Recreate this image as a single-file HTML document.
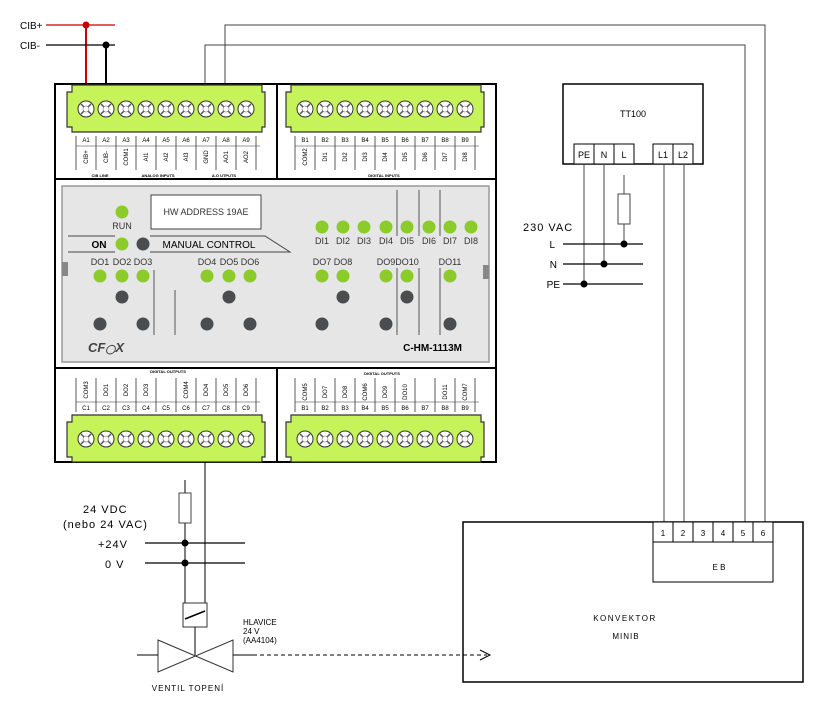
<!DOCTYPE html>
<html><head><meta charset="utf-8"><style>
html,body{margin:0;padding:0;background:#fff}
svg{display:block;font-family:"Liberation Sans",sans-serif}
.t{font-size:6px;text-anchor:middle}
.s{font-size:4px;text-anchor:middle;font-weight:bold}
.p{font-size:9px;text-anchor:middle;fill:#333}
</style></head><body>
<svg width="825" height="715" viewBox="0 0 825 715" xmlns="http://www.w3.org/2000/svg">
<defs>
<g id="sc"><circle r="8" fill="#fff" stroke="#333" stroke-width="1"/><path d="M-5,-5L5,5M-5,5L5,-5" stroke="#555" stroke-width="1.5"/><circle r="3" fill="#fff" stroke="#777" stroke-width=".6"/></g>
<g id="tb"><path d="M5,0H195V7H198V42H195V47H5V42H0V7H5Z" fill="#c6f35a" stroke="#333" stroke-width="1.2"/>
<use href="#sc" x="19" y="24"/><use href="#sc" x="39" y="24"/><use href="#sc" x="59" y="24"/><use href="#sc" x="79" y="24"/><use href="#sc" x="99" y="24"/><use href="#sc" x="119" y="24"/><use href="#sc" x="139" y="24"/><use href="#sc" x="159" y="24"/><use href="#sc" x="179" y="24"/></g>
<g id="sep"><path d="M0,0V34M20,0V34M40,0V34M60,0V34M80,0V34M100,0V34M120,0V34M140,0V34M160,0V34M180,0V34" stroke="#333" stroke-width=".8"/></g>
</defs>
<!-- CIB wires -->
<line x1="46" y1="25" x2="115" y2="25" stroke="#c00" stroke-width="1.2"/>
<line x1="86" y1="25" x2="86" y2="84" stroke="#c00" stroke-width="2"/>
<circle cx="86" cy="25" r="3.5" fill="#c00"/>
<line x1="46" y1="45" x2="115" y2="45" stroke="#000" stroke-width="1.2"/>
<line x1="106" y1="45" x2="106" y2="84" stroke="#000" stroke-width="2"/>
<circle cx="106" cy="45" r="3.5" fill="#000"/>
<text x="20" y="29" font-size="10">CIB+</text>
<text x="20" y="49" font-size="10">CIB-</text>
<!-- gray wires to EB 5,6 -->
<path d="M205,84V45H745V522M225,84V25H765V522" fill="none" stroke="#444" stroke-width="1"/>
<!-- module -->
<rect x="55" y="84" width="441" height="378" fill="#fff" stroke="#000" stroke-width="2"/>
<line x1="277" y1="84" x2="277" y2="179" stroke="#000" stroke-width="2"/>
<line x1="55" y1="179" x2="496" y2="179" stroke="#000" stroke-width="2"/>
<line x1="55" y1="368" x2="496" y2="368" stroke="#000" stroke-width="2"/>
<line x1="277" y1="368" x2="277" y2="462" stroke="#000" stroke-width="2"/>
<use href="#tb" x="67" y="85"/>
<use href="#tb" x="286" y="85"/>
<use href="#tb" x="67" y="415"/>
<use href="#tb" x="286" y="415"/>
<use href="#sep" x="76" y="136"/><use href="#sep" x="295" y="136"/>
<use href="#sep" x="76" y="378"/><use href="#sep" x="295" y="378"/>
<line x1="76" y1="146" x2="260" y2="146" stroke="#333" stroke-width=".5"/>
<line x1="295" y1="146" x2="479" y2="146" stroke="#333" stroke-width=".5"/>
<line x1="76" y1="402" x2="260" y2="402" stroke="#333" stroke-width=".5"/>
<line x1="295" y1="402" x2="479" y2="402" stroke="#333" stroke-width=".5"/>
<g class="t">
<text x="86" y="142">A1</text><text x="106" y="142">A2</text><text x="126" y="142">A3</text><text x="146" y="142">A4</text><text x="166" y="142">A5</text><text x="186" y="142">A6</text><text x="206" y="142">A7</text><text x="226" y="142">A8</text><text x="246" y="142">A9</text>
<text x="305" y="142">B1</text><text x="325" y="142">B2</text><text x="345" y="142">B3</text><text x="365" y="142">B4</text><text x="385" y="142">B5</text><text x="405" y="142">B6</text><text x="425" y="142">B7</text><text x="445" y="142">B8</text><text x="465" y="142">B9</text>
<text x="86" y="410">C1</text><text x="106" y="410">C2</text><text x="126" y="410">C3</text><text x="146" y="410">C4</text><text x="166" y="410">C5</text><text x="186" y="410">C6</text><text x="206" y="410">C7</text><text x="226" y="410">C8</text><text x="246" y="410">C9</text>
<text x="305" y="410">B1</text><text x="325" y="410">B2</text><text x="345" y="410">B3</text><text x="365" y="410">B4</text><text x="385" y="410">B5</text><text x="405" y="410">B6</text><text x="425" y="410">B7</text><text x="445" y="410">B8</text><text x="465" y="410">B9</text>
</g>
<g class="t" font-size="5">
<text transform="translate(88,157) rotate(-90)">CIB+</text><text transform="translate(108,157) rotate(-90)">CIB-</text><text transform="translate(128,157) rotate(-90)">COM1</text><text transform="translate(148,157) rotate(-90)">AI1</text><text transform="translate(168,157) rotate(-90)">AI2</text><text transform="translate(188,157) rotate(-90)">AI3</text><text transform="translate(208,157) rotate(-90)">GND</text><text transform="translate(228,157) rotate(-90)">AO1</text><text transform="translate(248,157) rotate(-90)">AO2</text>
<text transform="translate(307,157) rotate(-90)">COM2</text><text transform="translate(327,157) rotate(-90)">DI1</text><text transform="translate(347,157) rotate(-90)">DI2</text><text transform="translate(367,157) rotate(-90)">DI3</text><text transform="translate(387,157) rotate(-90)">DI4</text><text transform="translate(407,157) rotate(-90)">DI5</text><text transform="translate(427,157) rotate(-90)">DI6</text><text transform="translate(447,157) rotate(-90)">DI7</text><text transform="translate(467,157) rotate(-90)">DI8</text>
<text transform="translate(88,390) rotate(-90)">COM3</text><text transform="translate(108,390) rotate(-90)">DO1</text><text transform="translate(128,390) rotate(-90)">DO2</text><text transform="translate(148,390) rotate(-90)">DO3</text><text transform="translate(188,390) rotate(-90)">COM4</text><text transform="translate(208,390) rotate(-90)">DO4</text><text transform="translate(228,390) rotate(-90)">DO5</text><text transform="translate(248,390) rotate(-90)">DO6</text>
<text transform="translate(307,392) rotate(-90)">COM5</text><text transform="translate(327,392) rotate(-90)">DO7</text><text transform="translate(347,392) rotate(-90)">DO8</text><text transform="translate(367,392) rotate(-90)">COM6</text><text transform="translate(387,392) rotate(-90)">DO9</text><text transform="translate(407,392) rotate(-90)">DO10</text><text transform="translate(447,392) rotate(-90)">DO11</text><text transform="translate(467,392) rotate(-90)">COM7</text>
</g>
<g class="s"><text x="100" y="177">CIB LINE</text><text x="158" y="177">ANALOG INPUTS</text><text x="224" y="177">A.O UTPUTS</text><text x="384" y="177">DIGITAL INPUTS</text><text x="168" y="373">DIGITAL OUTPUTS</text><text x="382" y="375">DIGITAL OUTPUTS</text></g>
<!-- panel -->
<rect x="62" y="186" width="427" height="176" fill="#e6e6e6" stroke="#999" stroke-width="1.5"/>
<rect x="62" y="262" width="6" height="14" fill="#888"/><rect x="483" y="265" width="6" height="14" fill="#888"/>
<rect x="151" y="195" width="110" height="34" fill="#fff" stroke="#444"/>
<text x="206" y="215" font-size="9" text-anchor="middle" fill="#333">HW ADDRESS 19AE</text>
<circle cx="122" cy="212" r="6.5" fill="#8ccc2a"/>
<text x="122" y="229" class="p">RUN</text>
<path d="M68,236H115M150,236H265L290,252H150M115,252H68Z" fill="none" stroke="#444"/>
<text x="99" y="248" font-size="10" font-weight="bold" text-anchor="middle">ON</text>
<text x="209" y="248" font-size="10" text-anchor="middle">MANUAL CONTROL</text>
<circle cx="122" cy="244" r="6.5" fill="#8ccc2a"/><circle cx="143" cy="244" r="6.5" fill="#4a4d50"/>
<g fill="#8ccc2a"><circle cx="322" cy="227" r="6.5"/><circle cx="343" cy="227" r="6.5"/><circle cx="364" cy="227" r="6.5"/><circle cx="386" cy="227" r="6.5"/><circle cx="407" cy="227" r="6.5"/><circle cx="429" cy="227" r="6.5"/><circle cx="450" cy="227" r="6.5"/><circle cx="471" cy="227" r="6.5"/>
<circle cx="100" cy="276" r="6.5"/><circle cx="122" cy="276" r="6.5"/><circle cx="143" cy="276" r="6.5"/><circle cx="207" cy="276" r="6.5"/><circle cx="229" cy="276" r="6.5"/><circle cx="250" cy="276" r="6.5"/><circle cx="322" cy="276" r="6.5"/><circle cx="343" cy="276" r="6.5"/><circle cx="386" cy="276" r="6.5"/><circle cx="407" cy="276" r="6.5"/><circle cx="450" cy="276" r="6.5"/></g>
<g fill="#4a4d50"><circle cx="122" cy="297" r="6.5"/><circle cx="229" cy="297" r="6.5"/><circle cx="343" cy="297" r="6.5"/><circle cx="407" cy="297" r="6.5"/>
<circle cx="100" cy="324" r="6.5"/><circle cx="143" cy="324" r="6.5"/><circle cx="207" cy="324" r="6.5"/><circle cx="250" cy="324" r="6.5"/><circle cx="322" cy="324" r="6.5"/><circle cx="386" cy="324" r="6.5"/><circle cx="450" cy="324" r="6.5"/></g>
<g class="p"><text x="322" y="244">DI1</text><text x="343" y="244">DI2</text><text x="364" y="244">DI3</text><text x="386" y="244">DI4</text><text x="407" y="244">DI5</text><text x="429" y="244">DI6</text><text x="450" y="244">DI7</text><text x="471" y="244">DI8</text>
<text x="100" y="265">DO1</text><text x="122" y="265">DO2</text><text x="143" y="265">DO3</text><text x="207" y="265">DO4</text><text x="229" y="265">DO5</text><text x="250" y="265">DO6</text><text x="322" y="265">DO7</text><text x="343" y="265">DO8</text><text x="386" y="265">DO9</text><text x="407" y="265">DO10</text><text x="450" y="265">DO11</text></g>
<path d="M154,270V335M175,290V335M397,190V236M419,190V236M440,190V236M397,268V335M419,268V335M440,268V335" stroke="#555" stroke-width="1"/>
<text x="88" y="352" font-size="13" font-weight="bold" font-style="italic" fill="#444">CF<tspan font-size="9">&#9711;</tspan>X</text>
<text x="462" y="351" font-size="10" font-weight="bold" text-anchor="end">C-HM-1113M</text>
<!-- TT100 -->
<rect x="563" y="84" width="140" height="80" fill="#fff" stroke="#000" stroke-width="1.5"/>
<text x="633" y="117" font-size="9" text-anchor="middle">TT100</text>
<rect x="574" y="144" width="60" height="20" fill="#fff" stroke="#000"/><path d="M594,144V164M614,144V164" stroke="#000"/>
<rect x="653" y="144" width="40" height="20" fill="#fff" stroke="#000"/><path d="M673,144V164" stroke="#000"/>
<g font-size="9" text-anchor="middle"><text x="584" y="158">PE</text><text x="604" y="158">N</text><text x="624" y="158">L</text><text x="663" y="158">L1</text><text x="683" y="158">L2</text></g>
<path d="M584,164V284M604,164V264M624,175V244M664,164V522M684,164V522" stroke="#444" stroke-width="1"/>
<rect x="618" y="194" width="12" height="30" fill="#fff" stroke="#444"/>
<path d="M563,244H643M563,264H643M563,284H643" stroke="#000" stroke-width="1.2"/>
<circle cx="624" cy="244" r="3.5"/><circle cx="604" cy="264" r="3.5"/><circle cx="584" cy="284" r="3.5"/>
<text x="523" y="231" font-size="11" letter-spacing="1">230 VAC</text>
<text x="555" y="248" font-size="10" text-anchor="end">L</text><text x="557" y="268" font-size="10" text-anchor="end">N</text><text x="560" y="288" font-size="10" text-anchor="end">PE</text>
<!-- convector -->
<rect x="463" y="522" width="340" height="160" fill="#fff" stroke="#000" stroke-width="1.5"/>
<rect x="653" y="522" width="120" height="60" fill="#fff" stroke="#000"/>
<path d="M653,542H773M673,522V542M693,522V542M713,522V542M733,522V542M753,522V542" stroke="#000"/>
<g font-size="8" text-anchor="middle"><text x="663" y="536">1</text><text x="683" y="536">2</text><text x="703" y="536">3</text><text x="723" y="536">4</text><text x="743" y="536">5</text><text x="763" y="536">6</text>
<text x="719" y="570">E B</text><text x="625" y="621" letter-spacing="1.5">KONVEKTOR</text><text x="626" y="639" letter-spacing="1">MINIB</text></g>
<!-- bottom 24V -->
<path d="M205,462V603M185,480V603M195,627V655" stroke="#000" stroke-width="1"/>
<rect x="179" y="493" width="12" height="30" fill="#fff" stroke="#444"/>
<path d="M145,543H245M145,563H245" stroke="#000" stroke-width="1.2"/>
<circle cx="185" cy="543" r="3.5"/><circle cx="185" cy="563" r="3.5"/>
<rect x="183" y="603" width="24" height="24" fill="#fff" stroke="#333"/>
<path d="M185,619L205,611" stroke="#000" stroke-width="1.5"/>
<path d="M158,640L233,672V640L158,672Z" fill="#fff" stroke="#333"/>
<path d="M137,655H158M233,655H253" stroke="#000"/>
<path d="M253,655H487" stroke="#000" stroke-dasharray="4,3"/>
<path d="M480,650L490,655L480,660" fill="none" stroke="#000"/>
<g font-size="11" letter-spacing="1"><text x="83" y="513">24 VDC</text><text x="63" y="528">(nebo 24 VAC)</text><text x="98" y="548">+24V</text><text x="105" y="568">0 V</text></g>
<g font-size="8"><text x="243" y="625">HLAVICE</text><text x="243" y="634">24 V</text><text x="243" y="643">(AA4104)</text></g>
<text x="188" y="691" font-size="8" text-anchor="middle" letter-spacing="1">VENTIL TOPENÍ</text>
</svg>
</body></html>
